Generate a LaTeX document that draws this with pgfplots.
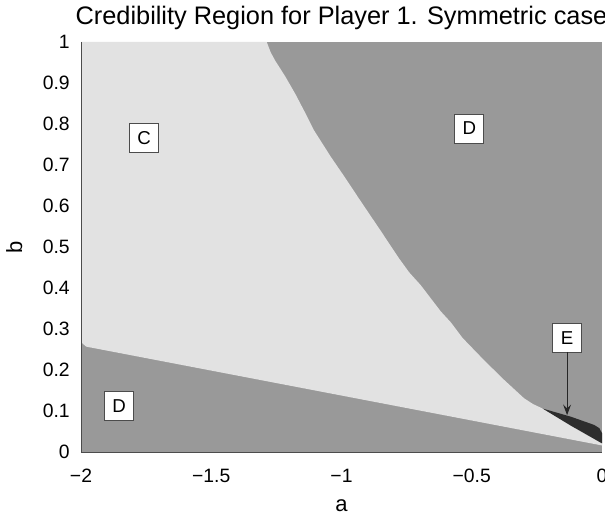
\documentclass[border=0pt]{standalone}
\usepackage{fontspec}
\setmainfont{Liberation Sans}
\usepackage{pgfplots}
\pgfplotsset{compat=1.18}
\usetikzlibrary{arrows.meta}

\definecolor{regionD}{RGB}{153,153,153}
\definecolor{regionC}{RGB}{226,226,226}
\definecolor{regionE}{RGB}{45,45,45}

\tikzset{region box/.style={draw=black!70, fill=white, line width=0.7pt, inner sep=0pt,
    minimum size=21.75pt, font=\fontsize{14}{16}\selectfont}}

\begin{document}
\begin{tikzpicture}
\begin{axis}[
  scale only axis, width=390.75pt, height=307.5pt,
  xmin=-2, xmax=0, ymin=0, ymax=1,
  axis x line*=bottom, axis y line*=left,
  axis line style={draw=black!70, line width=0.6pt, -},
  axis on top,
  xtick={-2,-1.5,-1,-0.5,0},
  xticklabels={−2,−1.5,−1,−0.5,0},
  ytick={0,0.1,0.2,0.3,0.4,0.5,0.6,0.7,0.8,0.9,1},
  yticklabels={0,0.1,0.2,0.3,0.4,0.5,0.6,0.7,0.8,0.9,1},
  major tick length=0pt,
  tick label style={font=\fontsize{14.5}{16}\selectfont, inner sep=0pt},
  xticklabel style={anchor=base, yshift=-22.5pt},
  yticklabel style={anchor=east, xshift=-8.25pt},
  title={Credibility Region for Player 1. Symmetric case},
  title style={at={(axis description cs:0.5,1.022)}, anchor=base, inner sep=0pt,
    font=\fontsize{19}{22}\selectfont},
  xlabel={a},
  xlabel style={at={(axis description cs:0.5,-0.146)}, anchor=base, inner sep=0pt,
    font=\fontsize{16.5}{19}\selectfont},
  ylabel={b},
  ylabel style={at={(axis description cs:-0.1132,0.5)}, anchor=base, inner sep=0pt,
    font=\fontsize{16.5}{19}\selectfont},
]
% region D: the whole parameter square
\addplot[fill=regionD, draw=none] coordinates {(-2,0) (0,0) (0,1) (-2,1)} -- cycle;

% region C: between the lower line and the upper-right boundary
\addplot[fill=regionC, draw=none] coordinates {
  (-2,0.268) (-2,1) (-1.287,1) (-1.272,0.975) (-1.255,0.955) (-1.215,0.915)
  (-1.177,0.873) (-1.140,0.828) (-1.107,0.786) (-1.042,0.721) (-0.985,0.668)
  (-0.935,0.620) (-0.850,0.540) (-0.780,0.473) (-0.740,0.438) (-0.696,0.407)
  (-0.619,0.343) (-0.580,0.316) (-0.535,0.278) (-0.453,0.224) (-0.376,0.176)
  (-0.299,0.131) (-0.265,0.117) (-0.228,0.106) (0,0.045) (0,0.016)
  (-1.980,0.257)
} -- cycle;

% region E: thin wedge near a = 0
\addplot[fill=regionE, draw=none] coordinates {
  (-0.228,0.106) (-0.119,0.086) (-0.030,0.066) (-0.010,0.058) (0,0.046)
  (0,0.021) (-0.119,0.064)
} -- cycle;

\node[region box] at (axis cs:-1.758,0.766) {C};
\node[region box] at (axis cs:-0.509,0.789) {D};
\node[region box] at (axis cs:-1.854,0.112) {D};
\node[region box] at (axis cs:-0.134,0.279) {E};
\draw[-{Stealth[length=8pt,width=6pt,inset=3pt]}, line width=0.7pt, black!85]
  (axis cs:-0.134,0.244) -- (axis cs:-0.134,0.090);
\end{axis}
\pgfresetboundingbox
\path[use as bounding box] (-60.75pt,-46.5pt) rectangle (393pt,339pt);
\end{tikzpicture}
\end{document}
